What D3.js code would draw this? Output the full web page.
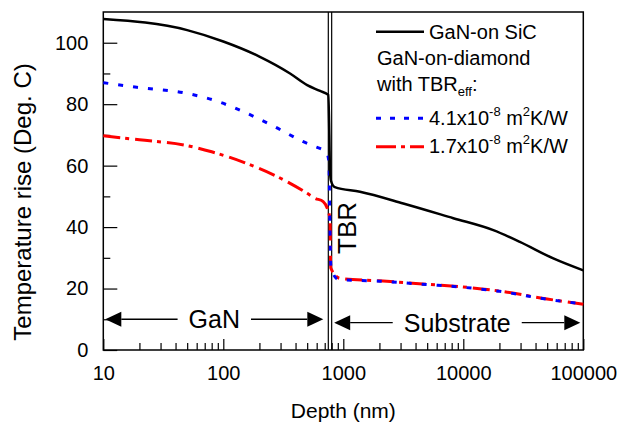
<!DOCTYPE html>
<html>
<head>
<meta charset="utf-8">
<script src="https://cdn.jsdelivr.net/npm/d3@7"></script>
<style>
  body { margin: 0; background: #fff; }
  svg text { font-family: "Liberation Sans", Arial, sans-serif; fill: #000; }
</style>
</head>
<body>
<svg id="chart" width="618" height="423"></svg>
<script>
// GaN-on SiC
var sicDepth = [10, 50, 100, 200, 360, 500, 640, 750, 765, 775, 790, 850, 1377, 3162, 8254, 17783, 29600, 56234, 100000];
var sicTemp  = [107.7, 104.1, 100.4, 95.5, 90.0, 86.2, 84.3, 83.0, 70, 58, 55, 53.0, 51.5, 47.7, 42.9, 39.0, 35.2, 29.8, 25.9];

// GaN-on-diamond, TBR 4.1e-8
var d41Depth = [10, 19, 50, 85, 146, 261, 464, 581, 727, 760, 770, 790, 907, 2000, 5000, 10000, 20000, 50000, 100000];
var d41Temp  = [87.0, 85.5, 83.5, 81.2, 77.6, 72.9, 67.8, 66.2, 64.2, 61, 45, 26.7, 23.0, 22.4, 21.3, 20.4, 19.1, 16.5, 15.0];

// GaN-on-diamond, TBR 1.7e-8
var d17Depth = [10, 20, 50, 80, 150, 300, 500, 580, 680, 775, 785, 940, 2000, 5000, 10000, 20000, 50000, 100000];
var d17Temp  = [69.7, 68.4, 66.5, 64.5, 61.0, 55.9, 51.0, 49.4, 48.3, 42.9, 26.7, 23.3, 22.5, 21.4, 20.5, 19.2, 16.6, 14.9];

var yMajor = [0, 20, 40, 60, 80, 100];
var yMinor = [10, 30, 50, 70, 90];
var xMajor = [10, 100, 1000, 10000, 100000];
var tbrDepth = [750, 800];

var plotL = 103.3, plotR = 583.3, plotT = 12, plotB = 350;

var svg = d3.select("#chart");

var x = d3.scaleLog().domain([10, 100000]).range([plotL, plotR]);
var y = d3.scaleLinear().domain([0, 110]).range([plotB, plotT]);

var xMinor = [];
[10, 100, 1000, 10000].forEach(function(dec) {
    for (var k = 2; k <= 9; k++) xMinor.push(dec * k);
});

// axes
svg.append("g").attr("transform", "translate(0," + plotB + ")")
    .call(d3.axisBottom(x).tickValues(xMajor).tickSize(-11).tickPadding(16)
        .tickFormat(function(d) { return d3.format("d")(d); }));
svg.append("g").attr("transform", "translate(0," + plotB + ")")
    .call(d3.axisBottom(x).tickValues(xMinor).tickSize(-7).tickFormat(""));

svg.append("g").attr("transform", "translate(" + plotL + ",0)")
    .call(d3.axisLeft(y).tickValues(yMajor).tickSize(-14).tickPadding(15));
svg.append("g").attr("transform", "translate(" + plotL + ",0)")
    .call(d3.axisLeft(y).tickValues(yMinor).tickSize(-7).tickFormat(""));

svg.selectAll(".domain").remove();
svg.selectAll(".tick line").attr("stroke", "#000").attr("stroke-width", 1.2);
svg.selectAll(".tick text").style("font-size", "20px").attr("fill", "#000");

// border
svg.append("rect")
    .attr("x", plotL).attr("y", plotT)
    .attr("width", plotR - plotL).attr("height", plotB - plotT)
    .attr("fill", "none").attr("stroke", "#000").attr("stroke-width", 1.5);

// TBR double line
svg.selectAll("line.tbr")
    .data(tbrDepth)
    .enter()
    .append("line")
    .attr("class", "tbr")
    .attr("x1", function(d) { return x(d); })
    .attr("x2", function(d) { return x(d); })
    .attr("y1", plotT).attr("y2", plotB)
    .attr("stroke", "#000").attr("stroke-width", 1.2);

// curves
var line = d3.line()
    .curve(d3.curveMonotoneX)
    .x(function(d) { return x(d[0]); })
    .y(function(d) { return y(d[1]); });

function pairs(a, b) { return a.map(function(v, i) { return [v, b[i]]; }); }

svg.append("path")
    .datum(pairs(d17Depth, d17Temp))
    .attr("d", line)
    .attr("fill", "none").attr("stroke", "#ff0000").attr("stroke-width", 3)
    .attr("stroke-dasharray", "17,5,4,6");

svg.append("path")
    .datum(pairs(d41Depth, d41Temp))
    .attr("d", line)
    .attr("fill", "none").attr("stroke", "#0000ff").attr("stroke-width", 3)
    .attr("stroke-dasharray", "5,10");

svg.append("path")
    .datum(pairs(sicDepth, sicTemp))
    .attr("d", line)
    .attr("fill", "none").attr("stroke", "#000").attr("stroke-width", 2.5);

// region arrows
function regionArrow(x0, x1, yy, label) {
    var g = svg.append("g");
    var t = g.append("text")
        .attr("x", (x0 + x1) / 2).attr("y", yy + 9)
        .attr("text-anchor", "middle")
        .style("font-size", "25px")
        .text(label);
    var half = t.node().getComputedTextLength() / 2 + 11;
    var cx = (x0 + x1) / 2;
    var head = 16, hh = 7.5;
    g.append("line").attr("x1", x0 + head).attr("x2", cx - half)
        .attr("y1", yy).attr("y2", yy).attr("stroke", "#000").attr("stroke-width", 1.3);
    g.append("line").attr("x1", cx + half).attr("x2", x1 - head)
        .attr("y1", yy).attr("y2", yy).attr("stroke", "#000").attr("stroke-width", 1.3);
    g.append("path")
        .attr("d", "M" + x0 + "," + yy + "L" + (x0 + head) + "," + (yy - hh) + "L" + (x0 + head) + "," + (yy + hh) + "Z");
    g.append("path")
        .attr("d", "M" + x1 + "," + yy + "L" + (x1 - head) + "," + (yy - hh) + "L" + (x1 - head) + "," + (yy + hh) + "Z");
}
regionArrow(x(10) + 2, x(750) - 5, y(10), "GaN");
regionArrow(x(800) + 2.5, x(100000) - 3, y(8.9), "Substrate");

svg.append("text")
    .attr("transform", "translate(356,228) rotate(-90)")
    .attr("text-anchor", "middle")
    .style("font-size", "26px")
    .text("TBR");

// axis titles
svg.append("text")
    .attr("x", (plotL + plotR) / 2).attr("y", 418)
    .attr("text-anchor", "middle")
    .style("font-size", "21px")
    .text("Depth (nm)");

svg.append("text")
    .attr("transform", "translate(31,202) rotate(-90)")
    .attr("text-anchor", "middle")
    .style("font-size", "24px")
    .text("Temperature rise (Deg. C)");

// legend
var lg = svg.append("g").style("font-size", "20px");
lg.append("line").attr("x1", 376).attr("x2", 424).attr("y1", 31.7).attr("y2", 31.7)
    .attr("stroke", "#000").attr("stroke-width", 2.5);
lg.append("text").attr("x", 429).attr("y", 38.5).text("GaN-on SiC");
lg.append("text").attr("x", 377).attr("y", 65).text("GaN-on-diamond");
var w = lg.append("text").attr("x", 377).attr("y", 91);
w.append("tspan").text("with TBR");
w.append("tspan").attr("dy", 5).style("font-size", "13px").text("eff");
w.append("tspan").attr("dy", -5).text(":");

lg.append("line").attr("x1", 376).attr("x2", 424).attr("y1", 118.3).attr("y2", 118.3)
    .attr("stroke", "#0000ff").attr("stroke-width", 3).attr("stroke-dasharray", "5,9");
lg.append("line").attr("x1", 376).attr("x2", 424).attr("y1", 146.7).attr("y2", 146.7)
    .attr("stroke", "#ff0000").attr("stroke-width", 3).attr("stroke-dasharray", "20,5,4,5");

function sciLabel(yy, mant) {
    var t = lg.append("text").attr("x", 429).attr("y", yy);
    t.append("tspan").text(mant + "x10");
    t.append("tspan").attr("dy", -9).style("font-size", "13px").text("-8");
    t.append("tspan").attr("dy", 9).text(" m");
    t.append("tspan").attr("dy", -9).style("font-size", "13px").text("2");
    t.append("tspan").attr("dy", 9).text("K/W");
}
sciLabel(125, "4.1");
sciLabel(153.3, "1.7");
</script>
</body>
</html>
